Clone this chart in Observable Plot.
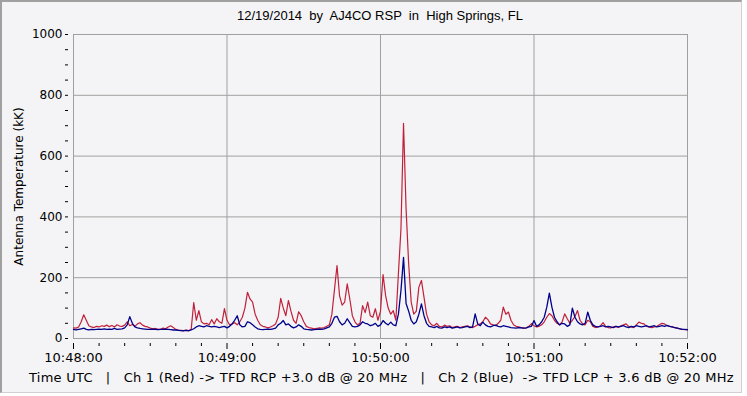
<!DOCTYPE html>
<html>
<head>
<meta charset="utf-8">
<script src="https://cdn.jsdelivr.net/npm/d3@7"></script>
<script src="https://cdn.jsdelivr.net/npm/@observablehq/plot@0.6"></script>
<style>
  html, body { margin: 0; padding: 0; background: #ffffff; }
  #wrap { position: relative; width: 742px; height: 393px; background: #f4f4f6; overflow: hidden; }
  #wrap svg { position: absolute; left: 0; top: 0; }
  #border { position: absolute; left: 0; top: 0; width: 742px; height: 393px; box-sizing: border-box;
            border-top: 2px solid #a0a0a0; border-left: 2px solid #a0a0a0;
            border-right: 1px solid #d0d0d0; border-bottom: 1px solid #d0d0d0; pointer-events: none; }
  #title { position: absolute; left: 73px; width: 614px; top: 8px; text-align: center; white-space: pre;
           font-family: "Liberation Sans", Arial, sans-serif; font-size: 13px; color: #000; }
  #caption { position: absolute; left: 29px; top: 370px; white-space: pre; letter-spacing: 0.25px;
             font-family: "DejaVu Sans", sans-serif; font-size: 13px; color: #000; }
</style>
</head>
<body>
<div id="wrap">
  <div id="title"></div>
  <div id="caption"></div>
  <div id="border"></div>
</div>
<script>
// ---- data (1-second samples starting at 10:48:00 UTC) ----
const titleText = "12/19/2014  by  AJ4CO RSP  in  High Springs, FL";
const captionText = "Time UTC   |   Ch 1 (Red) -> TFD RCP +3.0 dB @ 20 MHz   |   Ch 2 (Blue)  -> TFD LCP + 3.6 dB @ 20 MHz";
const yLabel = "Antenna Temperature (kK)";
const startTime = "2014-12-19T10:48:00Z";
const stepSeconds = 1;
const xTickMinutes = [0, 1, 2, 3, 4];
const xMinorSeconds = [10, 20, 30, 40, 50];
const yTickValues = [0, 200, 400, 600, 800, 1000];
const yMinorValues = [50, 100, 150, 250, 300, 350, 450, 500, 550, 650, 700, 750, 850, 900, 950];

const ch1Red = [
  35,34,38,55,78,60,42,38,36,40,
  38,42,40,44,39,43,38,45,41,40,
  44,55,42,46,40,48,52,44,40,38,
  34,32,33,31,30,34,32,38,42,36,
  30,28,27,26,28,25,30,118,60,92,
  55,48,50,45,62,48,65,55,50,98,
  60,45,48,52,45,55,70,100,152,130,
  120,80,60,45,40,38,35,38,42,48,
  70,132,100,75,125,90,60,50,88,75,
  55,40,36,34,32,33,35,34,36,40,
  45,80,160,240,140,110,120,180,130,75,
  55,45,50,108,85,120,75,70,98,60,
  90,210,141,100,80,92,60,214,361,708,
  427,247,120,80,90,169,191,136,80,55,
  45,42,50,40,38,44,40,42,36,38,
  40,36,38,40,42,38,36,40,45,48,
  55,70,62,48,45,42,50,60,103,80,
  87,60,45,40,38,36,34,35,40,49,
  42,38,40,45,55,70,82,75,60,50,
  45,55,81,65,50,60,72,92,60,48,
  45,60,55,40,36,38,42,52,40,36,
  35,38,40,36,42,45,48,40,38,36,
  45,54,50,48,40,38,36,38,40,45,
  50,48,42,40,38,36,34,32,30,29,
  28
];
const ch2Blue = [
  30,28,30,32,34,30,28,30,29,30,
  31,30,32,30,31,30,33,30,31,32,
  35,45,72,50,38,35,33,32,31,30,
  30,31,30,29,30,30,31,30,29,28,
  28,27,26,25,27,26,28,32,38,42,
  40,38,42,40,38,40,38,36,38,40,
  35,40,48,60,75,45,38,40,55,52,
  45,38,32,30,29,30,31,30,32,34,
  45,50,59,45,48,40,35,38,45,40,
  32,30,29,28,29,30,31,30,32,35,
  38,50,70,73,55,45,50,65,52,40,
  38,40,45,55,50,48,42,45,50,40,
  45,59,50,45,54,45,42,80,158,267,
  115,90,60,48,55,80,114,75,50,40,
  38,36,40,35,34,38,36,38,34,36,
  38,35,36,38,40,36,38,81,48,42,
  54,45,40,38,42,44,40,38,42,40,
  38,36,35,34,36,35,34,35,38,40,
  59,40,45,55,70,103,149,103,70,55,
  45,50,48,40,45,100,70,55,48,45,
  50,87,60,45,40,38,40,42,38,40,
  38,36,40,38,40,42,38,36,40,38,
  42,40,38,40,42,38,40,42,38,40,
  42,40,43,40,38,36,34,32,30,30,
  29
];

// ---- build ----
const t0 = new Date(startTime);
const at = (sec) => new Date(+t0 + sec * 1000);
const red = ch1Red.map((v, i) => ({t: at(i * stepSeconds), v}));
const blue = ch2Blue.map((v, i) => ({t: at(i * stepSeconds), v}));
const xMajor = xTickMinutes.map(m => at(m * 60));
const xMinor = xTickMinutes.slice(0, -1).flatMap(m => xMinorSeconds.map(s => at(m * 60 + s)));
const fmt = d3.utcFormat("%H:%M:%S");

document.getElementById("title").textContent = titleText;
document.getElementById("caption").textContent = captionText;

const chart = Plot.plot({
  width: 742,
  height: 393,
  marginTop: 34,
  marginBottom: 55,
  marginLeft: 73,
  marginRight: 55,
  style: {background: "transparent", fontFamily: "DejaVu Sans, sans-serif", fontSize: "12px", color: "#000", overflow: "visible"},
  x: {type: "utc", domain: [at(0), at(240)]},
  y: {domain: [0, 1000]},
  marks: [
    Plot.gridX(xMajor, {stroke: "#a0a0a0", strokeOpacity: 1}),
    Plot.gridY(yTickValues, {stroke: "#a0a0a0", strokeOpacity: 1}),
    Plot.frame({stroke: "#a0a0a0"}),
    Plot.lineY(red, {x: "t", y: "v", stroke: "#c0203a", strokeWidth: 1.2}),
    Plot.lineY(blue, {x: "t", y: "v", stroke: "#00008b", strokeWidth: 1.3}),
    Plot.axisX(xMinor, {tickSize: 3, dy: 5, tickFormat: () => "", label: null, stroke: "#000"}),
    Plot.axisX(xMajor, {tickSize: 6, dy: 5, tickPadding: 3, tickFormat: fmt, label: null, fontSize: 13, stroke: "#000"}),
    Plot.axisY(yMinorValues, {tickSize: 3, dx: -5, tickFormat: () => "", label: null, stroke: "#000"}),
    Plot.axisY(yTickValues, {tickSize: 3, dx: -5, tickPadding: 3, tickFormat: d => String(d), fontSize: 12,
      label: yLabel, labelAnchor: "center", labelArrow: "none", labelOffset: 59, stroke: "#000"})
  ]
});
document.getElementById("wrap").insertBefore(chart, document.getElementById("title"));
</script>
</body>
</html>
